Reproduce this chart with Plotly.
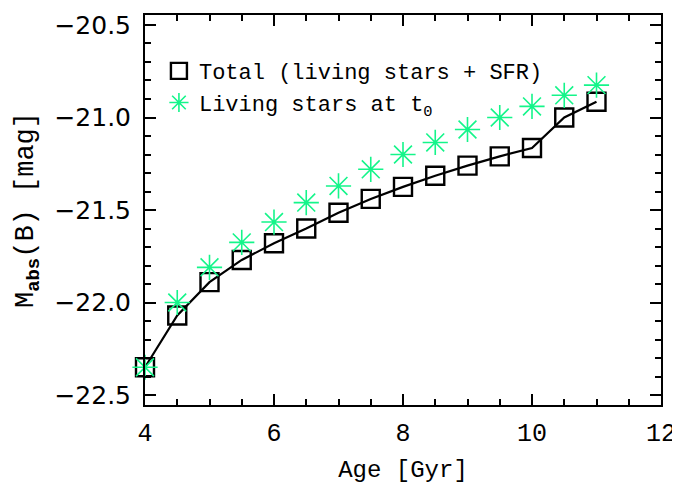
import plotly.graph_objects as go

age = [4.0, 4.5, 5.0, 5.5, 6.0, 6.5, 7.0, 7.5, 8.0, 8.5, 9.0, 9.5, 10.0, 10.5, 11.0]
total_mag = [-22.35, -22.07, -21.89, -21.77, -21.68, -21.60, -21.515, -21.44,
             -21.375, -21.315, -21.26, -21.21, -21.165, -21.0, -20.915]
living_mag = [-22.35, -22.00, -21.81, -21.675, -21.565, -21.46, -21.37, -21.28,
              -21.20, -21.135, -21.065, -21.0, -20.94, -20.88, -20.825]

x_ticks = [4, 6, 8, 10, 12]
y_ticks = [-22.5, -22.0, -21.5, -21.0, -20.5]
y_tick_text = ["\u221222.5", "\u221222.0", "\u221221.5", "\u221221.0", "\u221220.5"]

green = "#14f58a"
mono = "Liberation Mono"

fig = go.Figure()
fig.add_trace(go.Scatter(x=age, y=total_mag, mode="lines",
                         line=dict(color="black", width=2.2), showlegend=False,
                         hoverinfo="skip", cliponaxis=False))
fig.add_trace(go.Scatter(x=age, y=total_mag, mode="markers",
                         name="Total (living stars + SFR)", cliponaxis=False,
                         marker=dict(symbol="square-open", size=18,
                                     color="black", line=dict(width=2.4, color="black"))))
fig.add_trace(go.Scatter(x=age, y=living_mag, mode="markers",
                         name="Living stars at t<sub>0</sub>", cliponaxis=False,
                         marker=dict(symbol="asterisk-open", size=21,
                                     color=green, line=dict(width=1.6, color=green))))

axis_common = dict(showline=True, linewidth=2, linecolor="black", mirror="ticks",
                   ticks="inside", ticklen=11, tickwidth=2, tickcolor="black",
                   showgrid=False, zeroline=False, automargin=False)

fig.update_xaxes(range=[4, 12], tickvals=x_ticks,
                 tickfont=dict(family=mono, size=25, color="black"),
                 ticklabelstandoff=4,
                 minor=dict(dtick=0.5, ticks="inside", ticklen=6, tickwidth=2, tickcolor="black"),
                 title=dict(text="Age [Gyr]", font=dict(family=mono, size=24, color="black"),
                            standoff=12),
                 **axis_common)
fig.update_yaxes(range=[-22.554, -20.446], tickvals=y_ticks, ticktext=y_tick_text,
                 tickfont=dict(family="DejaVu Sans", size=25, color="black"),
                 ticklabelstandoff=7,
                 minor=dict(dtick=0.1, ticks="inside", ticklen=6, tickwidth=2, tickcolor="black"),
                 title=dict(text="M<sub><b>abs</b></sub>(B) [mag]",
                            font=dict(family=mono, size=27, color="black"),
                            standoff=13),
                 **axis_common)

fig.update_layout(
    width=672, height=476,
    margin=dict(l=137, r=19, t=7, b=79),
    plot_bgcolor="white", paper_bgcolor="white",
    legend=dict(x=0.027, y=0.91, xanchor="left", yanchor="top",
                bgcolor="rgba(0,0,0,0)", font=dict(family=mono, size=22, color="black"),
                itemwidth=30, tracegroupgap=0),
)

fig.write_html("out.html")
